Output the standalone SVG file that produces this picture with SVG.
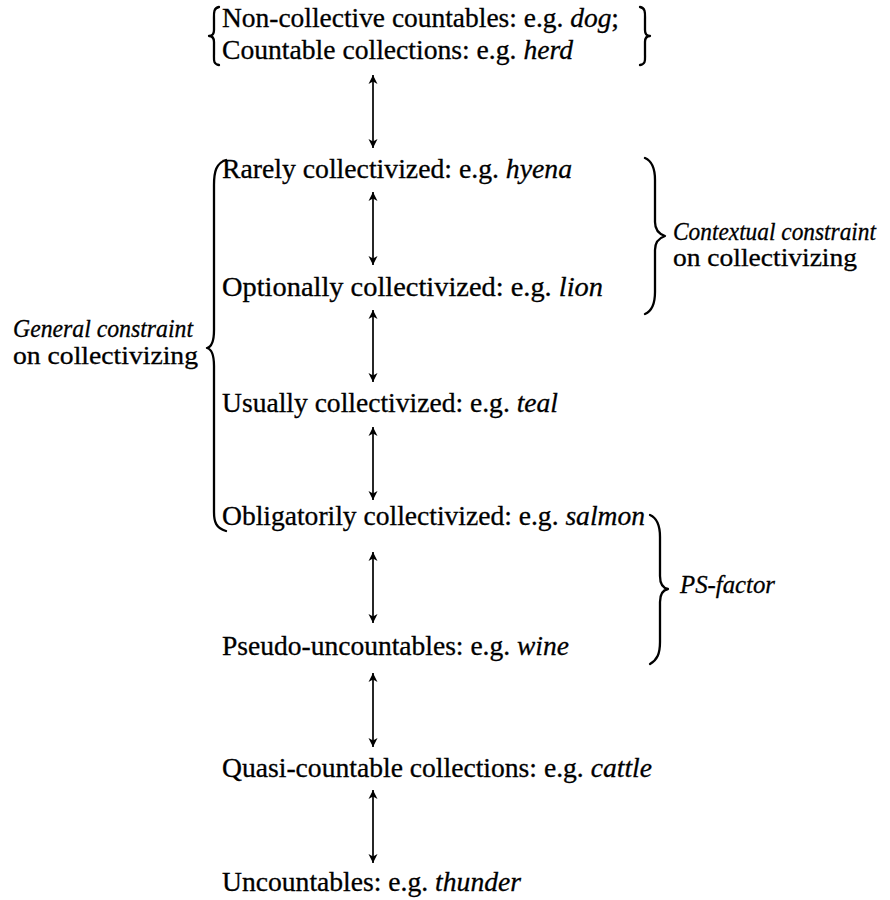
<svg xmlns="http://www.w3.org/2000/svg" width="890" height="900" viewBox="0 0 890 900" font-family="'Liberation Serif', 'DejaVu Serif', serif">
<style>
  text { font-family: 'Liberation Serif', 'DejaVu Serif', serif; font-size: 27px; fill: #000; stroke: #000; stroke-width: 0.3; }
  .it { font-style: italic; }
  .lab { font-size: 25px; }
  .brace { fill: none; stroke: #000; stroke-width: 2.3; stroke-linecap: round; stroke-linejoin: round; }
  .arrow { stroke: #000; stroke-width: 1.7; fill: none; marker-start: url(#ah); marker-end: url(#ah); }
</style>
<defs>
  <marker id="ah" viewBox="-10 -6 12 12" refX="0" refY="0" markerWidth="12" markerHeight="12" markerUnits="userSpaceOnUse" orient="auto-start-reverse">
    <path d="M0,0 L-9,-4.5 L-6.5,0 L-9,4.5 Z" fill="#000"/>
  </marker>
</defs>
<rect width="890" height="900" fill="#fff"/>

<g id="n-top">
  <text x="222" y="27" textLength="397" lengthAdjust="spacingAndGlyphs">Non-collective countables: e.g. <tspan class="it">dog</tspan>;</text>
  <text x="222" y="59" textLength="351" lengthAdjust="spacingAndGlyphs">Countable collections: e.g. <tspan class="it">herd</tspan></text>
</g>
<g id="n-rarely"><text x="222" y="178" textLength="350" lengthAdjust="spacingAndGlyphs">Rarely collectivized: e.g. <tspan class="it">hyena</tspan></text></g>
<g id="n-optionally"><text x="222" y="296" textLength="381" lengthAdjust="spacingAndGlyphs">Optionally collectivized: e.g. <tspan class="it">lion</tspan></text></g>
<g id="n-usually"><text x="222" y="412" textLength="336" lengthAdjust="spacingAndGlyphs">Usually collectivized: e.g. <tspan class="it">teal</tspan></text></g>
<g id="n-obligatorily"><text x="222" y="525" textLength="423" lengthAdjust="spacingAndGlyphs">Obligatorily collectivized: e.g. <tspan class="it">salmon</tspan></text></g>
<g id="n-pseudo"><text x="222" y="655" textLength="347" lengthAdjust="spacingAndGlyphs">Pseudo-uncountables: e.g. <tspan class="it">wine</tspan></text></g>
<g id="n-quasi"><text x="222" y="777" textLength="430" lengthAdjust="spacingAndGlyphs">Quasi-countable collections: e.g. <tspan class="it">cattle</tspan></text></g>
<g id="n-uncountables"><text x="222" y="891" textLength="299" lengthAdjust="spacingAndGlyphs">Uncountables: e.g. <tspan class="it">thunder</tspan></text></g>

<g id="braces">
  <path class="brace" d="M219,7 C213,8 214,14 214,20 L214,30 C214,34 212,36 209,36 C212,36 214,38 214,42 L214,54 C214,60 213,64 219,65"/>
  <path class="brace" d="M640,7 C646,8 645,14 645,20 L645,30 C645,34 647,36 650,36 C647,36 645,38 645,42 L645,54 C645,60 646,64 640,65"/>
  <path class="brace" d="M226,160 C216,163 214,172 214,185 L214,330 C214,342 211,347 207,348 C211,349 214,354 214,366 L214,512 C214,522 216,528 226,531"/>
  <path class="brace" d="M645,158 C652,161 655,168 655,180 L655,222 C655,230 659,234 665,236 C659,238 655,242 655,250 L655,292 C655,304 652,311 645,314"/>
  <path class="brace" d="M650,515 C657,518 660,525 660,537 L660,576 C660,584 663,588 668,589 C663,590 660,594 660,602 L660,642 C660,654 657,660 650,664"/>
</g>

<g id="labels">
  <text class="it lab" x="13" y="337" textLength="180" lengthAdjust="spacingAndGlyphs">General constraint</text>
  <text class="lab" x="13" y="364" textLength="185" lengthAdjust="spacingAndGlyphs">on collectivizing</text>
  <text class="it lab" x="673" y="240" textLength="203" lengthAdjust="spacingAndGlyphs">Contextual constraint</text>
  <text class="lab" x="673" y="266" textLength="184" lengthAdjust="spacingAndGlyphs">on collectivizing</text>
  <text class="it lab" x="680" y="593" textLength="95" lengthAdjust="spacingAndGlyphs">PS-factor</text>
</g>

<g id="connectors">
  <line class="arrow" x1="373" y1="75" x2="373" y2="148"/>
  <line class="arrow" x1="373" y1="192" x2="373" y2="265"/>
  <line class="arrow" x1="373" y1="310" x2="373" y2="382"/>
  <line class="arrow" x1="373" y1="427" x2="373" y2="500"/>
  <line class="arrow" x1="373" y1="552" x2="373" y2="623"/>
  <line class="arrow" x1="373" y1="673" x2="373" y2="747"/>
  <line class="arrow" x1="373" y1="790" x2="373" y2="863"/>
</g>
</svg>
